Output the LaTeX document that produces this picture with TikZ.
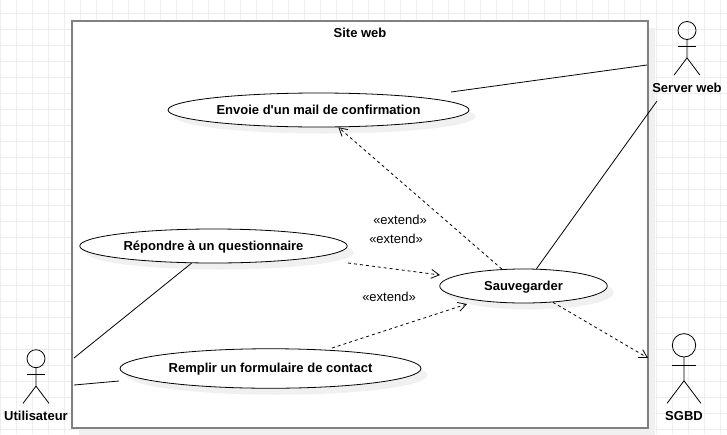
\documentclass[tikz,border=0pt]{standalone}
\usepackage{fontspec}
\setmainfont{Liberation Sans}[Ligatures=TeXOff]
\usetikzlibrary{shapes.geometric,arrows.meta,shadows}
\definecolor{gridgray}{HTML}{EEEEEE}
\definecolor{framegray}{HTML}{808080}
\definecolor{shadowgray}{HTML}{F0F0F0}

\tikzset{usecase/.style = {shape = ellipse,
                                    color = black,
                                    fill = white,
                                    line width = .8pt,
                                    inner sep = 0pt,
                                    text height = 10pt,
                                    text depth = 1.4pt,
                                    font=\fontsize{13}{15}\selectfont\bfseries,
                                    drop shadow = {shadow xshift = 6.5pt,
                                                   shadow yshift = -6.5pt,
                                                   fill = shadowgray,
                                                   opacity = 1},
                                    draw},
         sitebox/.style = {shape = rectangle,
                                    draw = framegray,
                                    fill = white,
                                    line width = 2pt,
                                    inner sep = 0pt,
                                    minimum width = 576pt,
                                    minimum height = 407pt,
                                    drop shadow = {shadow xshift = 7pt,
                                                   shadow yshift = -7pt,
                                                   fill = shadowgray,
                                                   opacity = 1}},
         boldtext/.style = {inner sep = 0pt,
                                    font=\fontsize{13}{15}\selectfont\bfseries},
         plaintext/.style = {inner sep = 0pt,
                                    font=\fontsize{13}{15}\selectfont},
         assoc/.style = {draw = black, line width = .8pt},
         extendline/.style = {assoc,
                                    dash pattern = on 3pt off 3pt,
                                    -{Straight Barb[length = 8pt, width = 9pt]}}}

\begin{document}
\begin{tikzpicture}[x=1pt,y=-1pt]
		\useasboundingbox (0,0) rectangle (727,434);
		% grid
		\clip (0,0) rectangle (727,434);
		\fill[white] (0,0) rectangle (727,434);
		\foreach \k in {0,...,45}
			\draw[gridgray,line width=1pt] (16*\k+.5,0) -- (16*\k+.5,434);
		\foreach \k in {0,...,26}
			\draw[gridgray,line width=1pt] (0,16*\k+13.5) -- (727,16*\k+13.5);

		\node[sitebox] (site) at (360,224.5) {};
		\node[boldtext] (sitename) at (360,33) {Site web};

		% use cases
		\node[usecase,minimum width=301pt,minimum height=34pt] (mail) at (318.5,110) {Envoie d'un mail de confirmation};
		\node[usecase,minimum width=267.5pt,minimum height=34pt] (repondre) at (213.5,246) {Répondre à un questionnaire};
		\node[usecase,minimum width=301pt,minimum height=39.5pt] (remplir) at (270.5,368.5) {Remplir un formulaire de contact};
		\node[usecase,minimum width=167.5pt,minimum height=34pt] (sauve) at (523.5,286) {Sauvegarder};

		% actors
		\foreach \n/\x/\y/\s/\ly/\t in {web/687/30.5/1/87.5/Server web,
				user/36/358.7/1/416/Utilisateur,
				sgbd/684/345.3/1.3/416/SGBD}{
			\node[draw,circle,inner sep=0pt,line width=.8pt,minimum size=18pt*\s] (\n head) at (\x,\y) {};
			\draw[line width=.8pt] (\n head.south) -- ++(0,18*\s) coordinate (\n hip) -- ++(-13*\s,17.3*\s);
			\draw[line width=.8pt] (\n hip) -- ++(13*\s,17.3*\s);
			\draw[line width=.8pt] (\n head.south) ++(-9.3*\s,6*\s) -- ++(18.6*\s,0);
			\node[boldtext] (\n label) at (\x,\ly) {\t};
		}

		% free ends
		\coordinate (mailfree) at (451,92);
		\coordinate (webleft) at (647,65);
		\coordinate (webfoot) at (657,101);
		\coordinate (userup) at (74,358);
		\coordinate (userdown) at (74,385);
		\coordinate (remplirleft) at (119,381);
		\coordinate (repondreright) at (348,263);
		\coordinate (sauveleft) at (440,275);
		\coordinate (remplirtop) at (332,348);
		\coordinate (sauvebelow) at (467,304);
		\coordinate (sgbdin) at (648,358);

		% associations
		\draw[assoc] (mailfree) -- (webleft);
		\draw[assoc] (webfoot) -- (sauve.53);
		\draw[assoc] (repondre.218) -- (userup);
		\draw[assoc] (remplirleft) -- (userdown);

		% extends
		\draw[extendline] (sauve.142) -- (mail.-41);
		\draw[extendline] (repondreright) -- (sauveleft);
		\draw[extendline] (remplirtop) -- (sauvebelow);
		\draw[extendline] (sauve.-29) -- (sgbdin);

		\node[plaintext] (ext1) at (400,220) {«extend»};
		\node[plaintext] (ext2) at (396,239) {«extend»};
		\node[plaintext] (ext3) at (389,297) {«extend»};
	\end{tikzpicture}
\end{document}
